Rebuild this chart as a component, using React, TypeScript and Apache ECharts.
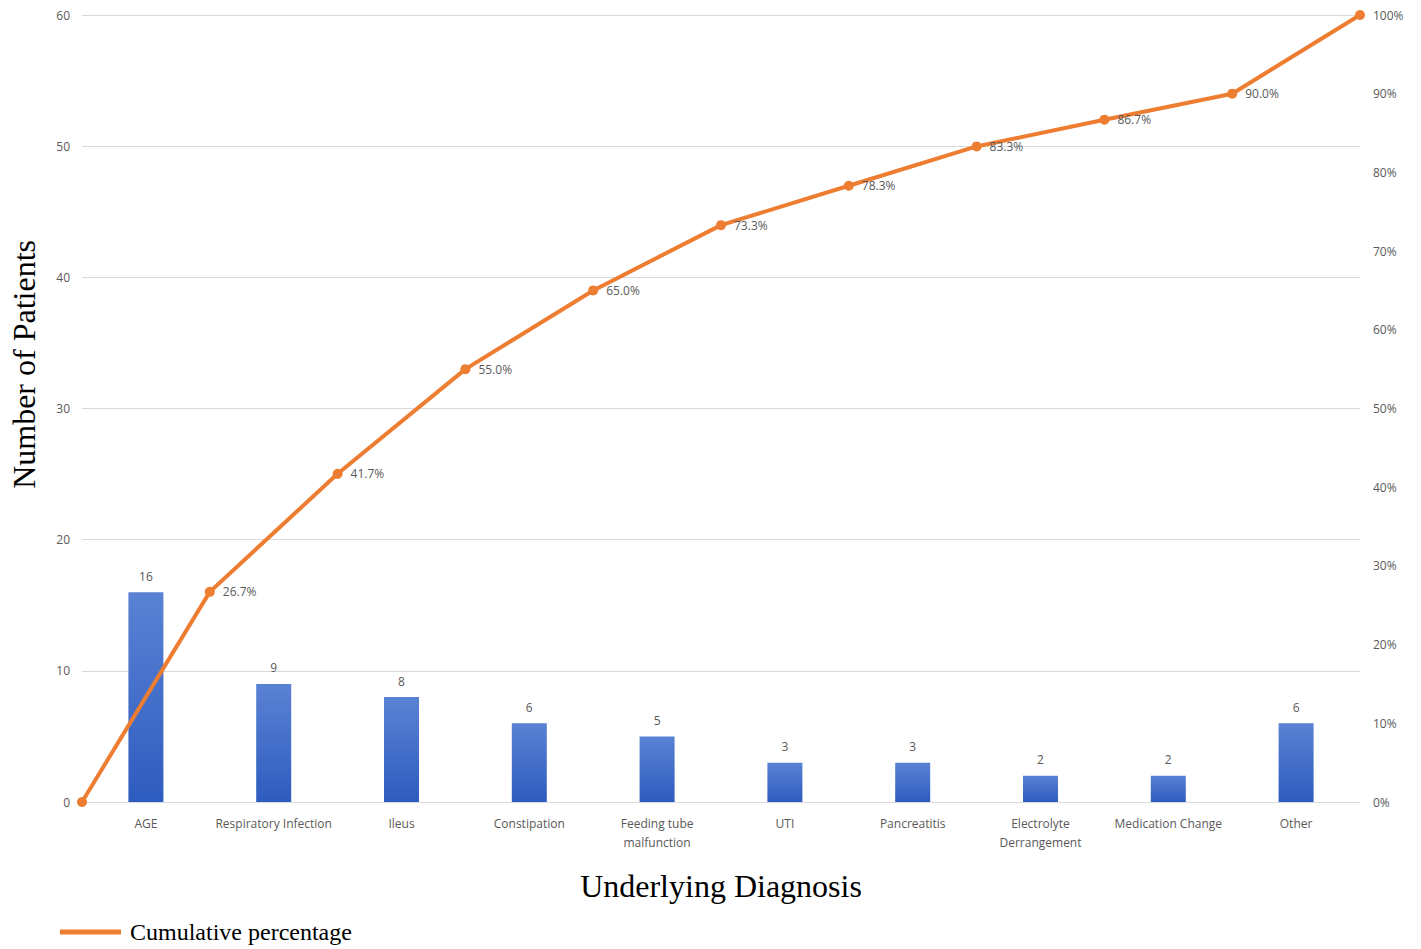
import React, { useEffect, useRef } from "react";
import * as echarts from "echarts";

const categories = [
  "AGE",
  "Respiratory Infection",
  "Ileus",
  "Constipation",
  "Feeding tube\nmalfunction",
  "UTI",
  "Pancreatitis",
  "Electrolyte\nDerrangement",
  "Medication Change",
  "Other",
];
const patientCounts = [16, 9, 8, 6, 5, 3, 3, 2, 2, 6];
const cumulativePercent = [0, 26.7, 41.7, 55.0, 65.0, 73.3, 78.3, 83.3, 86.7, 90.0, 100];
const cumulativePositions = [0, 1, 2, 3, 4, 5, 6, 7, 8, 9, 10];

export default function App() {
  const ref = useRef<HTMLDivElement>(null);
  useEffect(() => {
    if (!ref.current) return;
    const chart = echarts.init(ref.current, undefined, { renderer: "svg" });
    const gray = "#595959";
    chart.setOption({
      animation: false,
      grid: { left: 82, right: 61, top: 15, bottom: 147 },
      xAxis: [
        {
          type: "category",
          data: categories,
          axisLine: { lineStyle: { color: "#d9d9d9", width: 1 } },
          axisTick: { show: false },
          axisLabel: {
            color: gray,
            fontSize: 12,
            fontFamily: "Open Sans, sans-serif",
            margin: 12,
            lineHeight: 19,
            interval: 0,
          },
        },
        {
          type: "value",
          min: 0,
          max: 10,
          show: false,
        },
      ],
      yAxis: [
        {
          type: "value",
          min: 0,
          max: 60,
          interval: 10,
          axisLine: { show: false },
          axisTick: { show: false },
          splitLine: { lineStyle: { color: "#d9d9d9", width: 1 } },
          axisLabel: { color: gray, fontSize: 12, margin: 12, fontFamily: "Open Sans, sans-serif" },
        },
        {
          type: "value",
          min: 0,
          max: 100,
          interval: 10,
          axisLine: { show: false },
          axisTick: { show: false },
          splitLine: { show: false },
          axisLabel: {
            color: gray,
            fontSize: 12,
            margin: 13,
            fontFamily: "Open Sans, sans-serif",
            formatter: "{value}%",
          },
        },
      ],
      series: [
        {
          type: "bar",
          data: patientCounts,
          barWidth: 35,
          itemStyle: {
            color: new echarts.graphic.LinearGradient(0, 0, 0, 1, [
              { offset: 0, color: "#5a82d4" },
              { offset: 1, color: "#2e5cbf" },
            ]),
          },
          label: {
            show: true,
            position: "top",
            color: gray,
            fontSize: 12,
            distance: 10,
            fontFamily: "Open Sans, sans-serif",
          },
          z: 2,
        },
        {
          type: "line",
          name: "Cumulative percentage",
          xAxisIndex: 1,
          yAxisIndex: 1,
          data: cumulativePositions.map((x, i) => [x, cumulativePercent[i]]),
          lineStyle: { color: "#ED7D31", width: 4 },
          itemStyle: { color: "#ED7D31" },
          symbol: "circle",
          symbolSize: 10,
          label: {
            show: true,
            position: "right",
            distance: 8,
            color: gray,
            fontSize: 12,
            fontFamily: "Open Sans, sans-serif",
            formatter: (p: any) => {
              const v = p.value[1];
              if (v === 0 || v === 100) return "";
              return v.toFixed(1) + "%";
            },
          },
          z: 5,
        },
      ],
      graphic: [
        {
          type: "text",
          left: 8,
          top: 240,
          rotation: Math.PI / 2,
          style: {
            text: "Number of Patients",
            font: '32px "Liberation Serif", serif',
            fill: "#000",
          },
        },
        {
          type: "text",
          x: 721,
          y: 886,
          style: {
            text: "Underlying Diagnosis",
            font: '32px "Liberation Serif", serif',
            fill: "#000",
            align: "center",
            verticalAlign: "middle",
          },
        },
        {
          type: "line",
          shape: { x1: 60, y1: 932, x2: 121, y2: 932 },
          style: { stroke: "#ED7D31", lineWidth: 5 },
        },
        {
          type: "text",
          x: 130,
          y: 932,
          style: {
            text: "Cumulative percentage",
            font: '24px "Liberation Serif", serif',
            fill: "#000",
            verticalAlign: "middle",
          },
        },
      ],
    });
    return () => chart.dispose();
  }, []);
  return <div ref={ref} style={{ width: 1421, height: 949, position: "absolute", left: 0, top: 0 }} />;
}
